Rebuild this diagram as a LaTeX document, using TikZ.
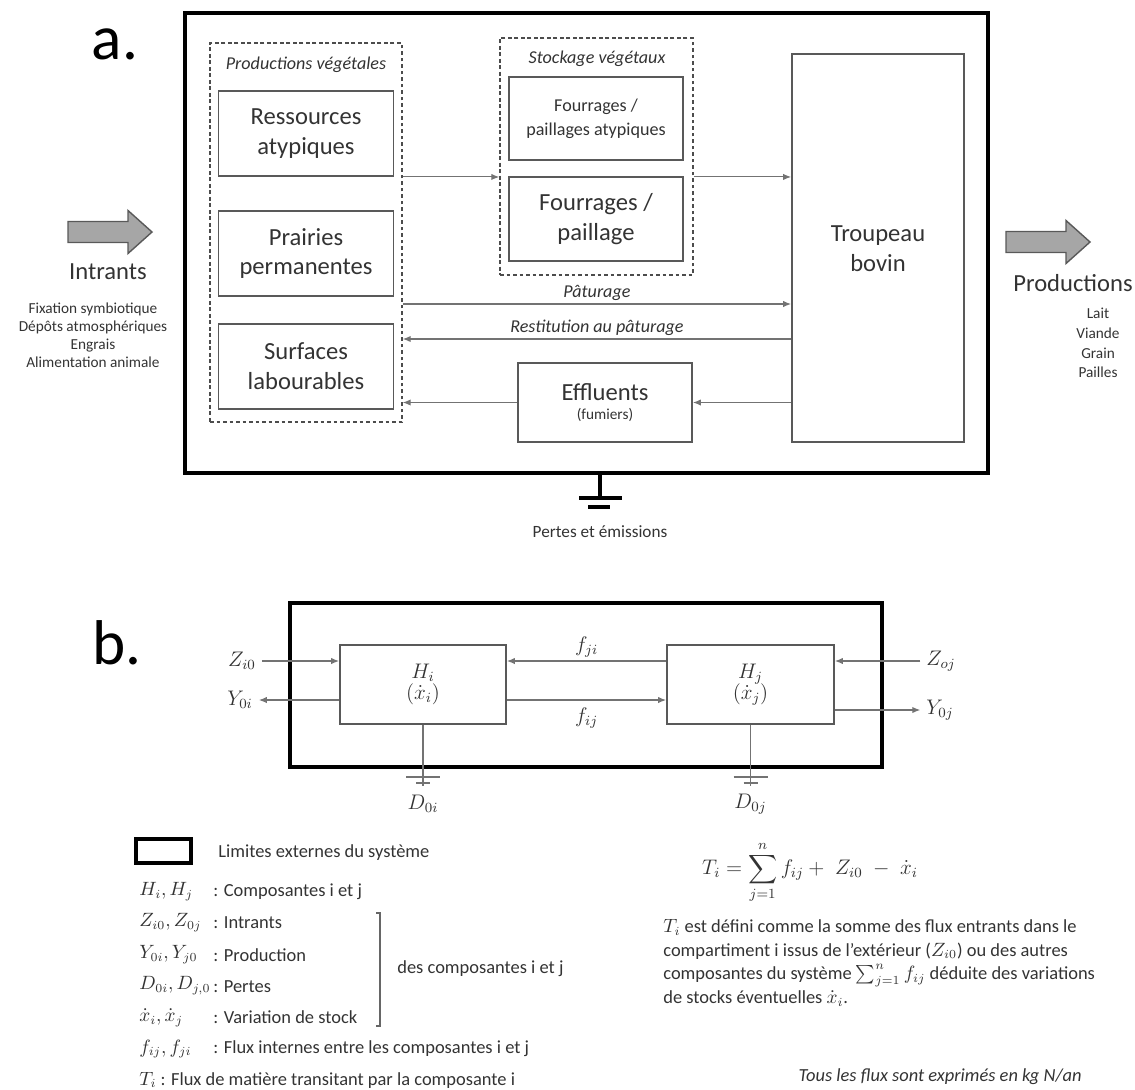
\documentclass[tikz,border=0pt]{standalone}
\usepackage{amsmath}
\usepackage{amssymb}
\usepackage{fontspec}
\setmainfont{Carlito}
\usetikzlibrary{arrows.meta,positioning}
\newcommand{\fhuge}{\fontsize{36}{40}\selectfont}
\newcommand{\fbig}{\fontsize{14}{17}\selectfont}
\newcommand{\fgroup}{\fontsize{10.3}{13.6}\selectfont}
\newcommand{\fmid}{\fontsize{10.5}{13.4}\selectfont}
\newcommand{\fsmall}{\fontsize{8.7}{10.2}\selectfont}
\newcommand{\fmath}{\fontsize{11.5}{13}\selectfont}
\tikzstyle{sysbox}=[rectangle, draw=black, line width=2.3pt, inner sep=0pt]
\tikzstyle{compbox}=[rectangle, draw=black!65, line width=1.1pt, align=center, inner sep=0pt]
\tikzstyle{groupbox}=[rectangle, draw=black!70, line width=0.9pt, dash pattern=on 2.2pt off 1.5pt, inner sep=0pt]
\tikzstyle{flow}=[-{Latex[length=4.5pt,width=3.6pt]}, draw=black!55, line width=0.6pt]
\tikzstyle{bline}=[draw=black!55, line width=0.6pt]
\tikzstyle{bigarrow}=[fill=black!35, draw=black!65, line width=0.8pt]
\tikzstyle{legtext}=[anchor=west, inner sep=0pt, font=\fmid]
% gray block arrow, left middle at (#1,#2)
\newcommand{\grayarrow}[2]{
 \filldraw[bigarrow] (#1,#2) ++(0,-10.5) -- ++(60,0) -- ++(0,-11) -- ++(24,21.5)
   -- ++(-24,21.5) -- ++(0,-11) -- ++(-60,0) -- cycle;}

\begin{document}
\begin{tikzpicture}[x=0.02cm, y=-0.02cm, every node/.style={text=black!80}]
\useasboundingbox (0,0) rectangle (1135,1089);

%%% a.
\node[font=\fhuge, text=black] (lbla) at (115,44) {a.};
\node[sysbox, minimum width=16.06cm, minimum height=9.2cm] (sysa) at (586.5,243) {};

\node[groupbox, minimum width=3.84cm, minimum height=7.58cm] (prodveg) at (306,232.5) {};
\node[font=\fgroup\itshape] (prodvegl) at (306,65) {Productions végétales};
\node[compbox, font=\fbig, minimum width=3.5cm, minimum height=1.7cm] (ress) at (306,133.5) {Ressources\\atypiques};
\node[compbox, font=\fbig, minimum width=3.5cm, minimum height=1.7cm] (prai) at (306,253.5) {Prairies\\permanentes};
\node[compbox, font=\fbig, minimum width=3.5cm, minimum height=1.7cm] (surf) at (306,366.5) {Surfaces\\labourables};

\node[groupbox, minimum width=3.86cm, minimum height=4.74cm] (stock) at (596.5,156.5) {};
\node[font=\fgroup\itshape] (stockl) at (597,59) {Stockage végétaux};
\node[compbox, font=\fgroup, minimum width=3.48cm, minimum height=1.66cm] (fatyp) at (596,118.5) {Fourrages /\\paillages atypiques};
\node[compbox, font=\fbig, minimum width=3.48cm, minimum height=1.68cm] (fourr) at (596,219) {Fourrages /\\paillage};

\node[compbox, font=\fbig, minimum width=3.44cm, minimum height=7.76cm] (troup) at (878,248) {};
\node[font=\fbig, align=center] (troupl) at (878,249) {Troupeau\\bovin};
\node[compbox, minimum width=3.48cm, minimum height=1.58cm] (effl) at (605,402.5) {{\fbig Effluents}\\[-1pt]{\fsmall (fumiers)}};

\coordinate (patur) at (600,304);
\coordinate (restit) at (600,339);
\draw[flow] (prodveg.east |- ress.south) -- (stock.west |- ress.south);
\draw[flow] (stock.east |- ress.south) -- (troup.west |- ress.south);
\draw[flow] (prodveg.east |- patur) -- node[above, inner sep=1.5pt, font=\fgroup\itshape] {Pâturage} (troup.west |- patur);
\draw[flow] (troup.west |- restit) -- node[above, inner sep=1.5pt, font=\fgroup\itshape] {Restitution au pâturage} (prodveg.east |- restit);
\draw[flow] (troup.west |- effl.east) -- (effl.east);
\draw[flow] (effl.west) -- (prodveg.east |- effl.west);

\grayarrow{68}{232}
\node[font=\fbig] (intr) at (108,272) {Intrants};
\node[font=\fsmall, align=center] (intrl) at (93,335) {Fixation symbiotique\\Dépôts atmosphériques\\Engrais\\Alimentation animale};
\grayarrow{1006}{242}
\node[font=\fbig] (prod) at (1073,283) {Productions};
\node[font=\fsmall, align=center] (prodl) at (1098,343) {Lait\\[1pt]Viande\\[1pt]Grain\\[1pt]Pailles};

\coordinate (gnda) at (600,498);
\draw[line width=1.8pt] (sysa.south -| gnda) -- (gnda);
\draw[line width=1.8pt] (579,498) -- (622,498);
\draw[line width=1.8pt] (588,507) -- (610,507);
\node[font=\fontsize{9.8}{12}\selectfont] (pertes) at (600,532) {Pertes et émissions};

%%% b.
\node[font=\fhuge, text=black] (lblb) at (117,643) {b.};
\node[sysbox, line width=2pt, minimum width=11.84cm, minimum height=3.28cm] (sysb) at (586,685) {};
\node[compbox, font=\fmath, minimum width=3.32cm, minimum height=1.58cm] (hi) at (423,684.5) {$H_i$\\[-1pt]$(\dot{x}_i)$};
\node[compbox, font=\fmath, minimum width=3.34cm, minimum height=1.58cm] (hj) at (750.5,684.5) {$H_j$\\[-1pt]$(\dot{x}_j)$};

\coordinate (yin) at (600,661);
\coordinate (yout) at (600,700);
\node[font=\fmath] (zi0) at (242,661) {$Z_{i0}$};
\node[font=\fmath] (y0i) at (240,700) {$Y_{0i}$};
\node[font=\fmath] (zoj) at (941,661) {$Z_{oj}$};
\node[font=\fmath] (y0j) at (940,710) {$Y_{0j}$};
\draw[flow] (zi0) -- (hi.west |- zi0);
\draw[flow] (hi.west |- y0i) -- (y0i);
\draw[flow] (zoj) -- (hj.east |- zoj);
\draw[flow] (hj.east |- y0j) -- (y0j);
\draw[flow] (hj.west |- yin) -- node[above, font=\fmath, inner sep=2pt] {$f_{ji}$} (hi.east |- yin);
\draw[flow] (hi.east |- yout) -- node[below, font=\fmath, inner sep=4pt] {$f_{ij}$} (hj.west |- yout);

\coordinate (gndi) at (423,786);
\coordinate (gndj) at (750.5,786);
\draw[bline] (hi.south) -- (gndi);
\draw[bline] (406,777) -- (440,777);
\draw[bline] (416,783) -- (430,783);
\draw[bline] (hj.south) -- (gndj);
\draw[bline] (733.5,777) -- (767.5,777);
\draw[bline] (743.5,783) -- (757.5,783);
\node[font=\fmath] (d0i) at (423,804) {$D_{0i}$};
\node[font=\fmath] (d0j) at (750.5,804) {$D_{0j}$};

%%% legend
\node[sysbox, line width=1.8pt, minimum width=1.1cm, minimum height=0.48cm] (leglim) at (163.5,851) {};
\node[legtext] (leglimt) at (218,853) {Limites externes du système};
\node[legtext] at (139,892) {$H_i, H_j$};
\node[legtext] at (213,892) {: Composantes i et j};
\node[legtext] at (139,923) {$Z_{i0}, Z_{0j}$};
\node[legtext] at (213,923) {: Intrants};
\node[legtext] at (139,955) {$Y_{0i}, Y_{j0}$};
\node[legtext] at (213,955) {: Production};
\node[legtext] at (139,986) {$D_{0i}, D_{j,0}$};
\node[legtext] at (213,987) {: Pertes};
\node[legtext] at (139,1018) {$\dot{x}_i, \dot{x}_j$};
\node[legtext] at (213,1017) {: Variation de stock};
\node[legtext] at (139,1049) {$f_{ij}, f_{ji}$};
\node[legtext] at (213,1049) {: Flux internes entre les composantes i et j};
\node[legtext] at (139,1080) {$T_i$ : Flux de matière transitant par la composante i};
\draw[black!60, line width=0.6pt] (376,913) -- (380,913) -- (380,1026) -- (376,1026);
\node[legtext] at (397,969) {des composantes i et j};

\node[font=\fmath] (formula) at (810,872) {$T_i = \displaystyle\sum_{j=1}^{n} f_{ij} + \; Z_{i0} \;-\; \dot{x}_i$};
\node[anchor=north west, align=left, inner sep=0pt, font=\fmid] (defn) at (663,919) {$T_i$ est défini comme la somme des flux entrants dans le\\compartiment i issus de l’extérieur ($Z_{i0}$) ou des autres\\composantes du système $\sum_{j=1}^{n} f_{ij}$ déduite des variations\\de stocks éventuelles $\dot{x}_i$.};
\node[anchor=east, inner sep=0pt, font=\fmid\itshape] (unit) at (1082,1077) {Tous les flux sont exprimés en kg N/an};

\end{tikzpicture}
\end{document}
